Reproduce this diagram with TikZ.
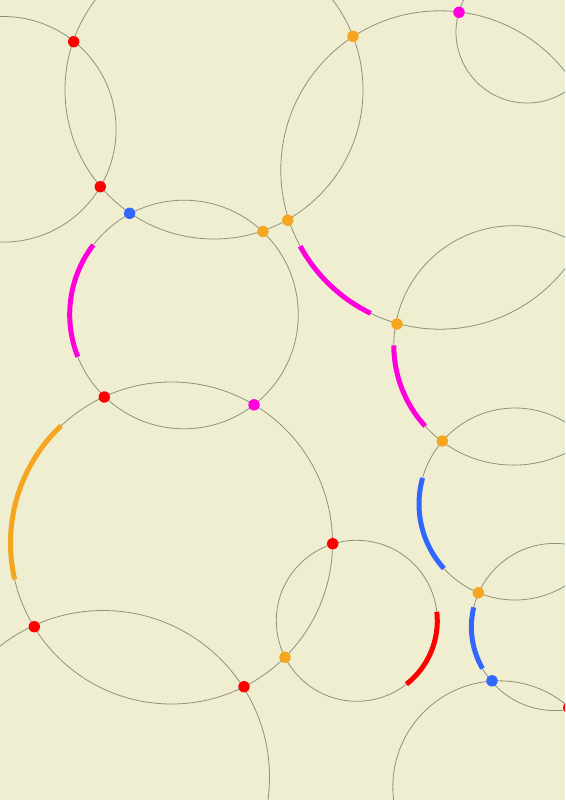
\documentclass[tikz,border=0pt]{standalone}
\usepackage{tikz}
\usepackage{color}
\definecolor{paper}{RGB}{239,238,209}
\definecolor{ringgrey}{RGB}{145,145,125}
\definecolor{dotred}{RGB}{255,0,0}
\definecolor{dotorange}{RGB}{245,166,30}
\definecolor{dotmagenta}{RGB}{255,0,220}
\definecolor{dotblue}{RGB}{51,102,255}

\begin{document}
\begin{tikzpicture}[x=0.75pt,y=0.75pt,yscale=-1,xscale=1,
  ring/.style={draw=ringgrey,line width=0.6pt},
  band/.style={line width=3.75pt,line cap=butt},
  dot/.style={fill=#1}]
%set diagram left start at 0, and has height of 800
\useasboundingbox (0,0) rectangle (565,800);
\clip (0,0) rectangle (565,800);
\fill [paper] (0,0) rectangle (565,800);

%Shape: Circle [id:A]
\draw [ring] (3.3,129.3) circle [radius=112.8];
%Shape: Circle [id:B]
\draw [ring] (214,90) circle [radius=149];
%Shape: Circle [id:C]
\draw [ring] (440,170) circle [radius=159.2];
%Shape: Circle [id:D]
\draw [ring] (527,32) circle [radius=71];
%Shape: Circle [id:E]
\draw [ring] (184,314.5) circle [radius=114.3];
%Shape: Circle [id:F]
\draw [ring] (513.5,345.4) circle [radius=119.7];
%Shape: Circle [id:G]
\draw [ring] (515,504) circle [radius=96];
%Shape: Circle [id:H]
\draw [ring] (555,627) circle [radius=83.6];
%Shape: Circle [id:J]
\draw [ring] (171.5,543) circle [radius=161];
%Shape: Circle [id:K]
\draw [ring] (356.8,620.8) circle [radius=80.5];
%Shape: Circle [id:L]
\draw [ring] (103,777) circle [radius=166.5];
%Shape: Circle [id:M]
\draw [ring] (499,787) circle [radius=106.2];

%Shape: Arc on E
\draw [band,dotmagenta] (184,314.5) ++(158.3:114.3) arc [start angle=158.3, end angle=217.5, radius=114.3];
%Shape: Arc on C
\draw [band,dotmagenta] (440,170) ++(115.8:159.2) arc [start angle=115.8, end angle=151.4, radius=159.2];
%Shape: Arc on F
\draw [band,dotmagenta] (513.5,345.4) ++(137.6:119.7) arc [start angle=137.6, end angle=180, radius=119.7];
%Shape: Arc on G
\draw [band,dotblue] (515,504) ++(137.8:96) arc [start angle=137.8, end angle=195.7, radius=96];
%Shape: Arc on H
\draw [band,dotblue] (555,627) ++(150.2:83.6) arc [start angle=150.2, end angle=193.6, radius=83.6];
%Shape: Arc on K
\draw [band,dotred] (356.8,620.8) ++(-6.4:80.5) arc [start angle=-6.4, end angle=51.9, radius=80.5];
%Shape: Arc on J
\draw [band,dotorange] (171.5,543) ++(167:161) arc [start angle=167, end angle=226.7, radius=161];

%Shape: Dots A and B
\fill [dot=dotred] (73.7,41.7) circle [radius=5.7];
\fill [dot=dotred] (100.3,186.7) circle [radius=5.7];
%Shape: Dots B and E
\fill [dot=dotblue] (129.7,213.3) circle [radius=5.7];
\fill [dot=dotorange] (263,231.5) circle [radius=5.7];
%Shape: Dots B and C
\fill [dot=dotorange] (287.8,220.2) circle [radius=5.7];
\fill [dot=dotorange] (353,36.3) circle [radius=5.7];
%Shape: Dot C and D
\fill [dot=dotmagenta] (459,12.3) circle [radius=5.7];
%Shape: Dot C and F
\fill [dot=dotorange] (397,324) circle [radius=5.7];
%Shape: Dot F and G
\fill [dot=dotorange] (442.3,441) circle [radius=5.7];
%Shape: Dot G and H
\fill [dot=dotorange] (478.3,592.8) circle [radius=5.7];
%Shape: Dots H and M
\fill [dot=dotblue] (492,680.8) circle [radius=5.7];
\fill [dot=dotred] (568.8,707.6) circle [radius=5.7];
%Shape: Dots E and J
\fill [dot=dotred] (104.3,397) circle [radius=5.7];
\fill [dot=dotmagenta] (254,404.8) circle [radius=5.7];
%Shape: Dots J and K
\fill [dot=dotred] (332.7,543.7) circle [radius=5.7];
\fill [dot=dotorange] (285,657.3) circle [radius=5.7];
%Shape: Dots J and L
\fill [dot=dotred] (34.3,626.7) circle [radius=5.7];
\fill [dot=dotred] (244,686.7) circle [radius=5.7];

\end{tikzpicture}
\end{document}
